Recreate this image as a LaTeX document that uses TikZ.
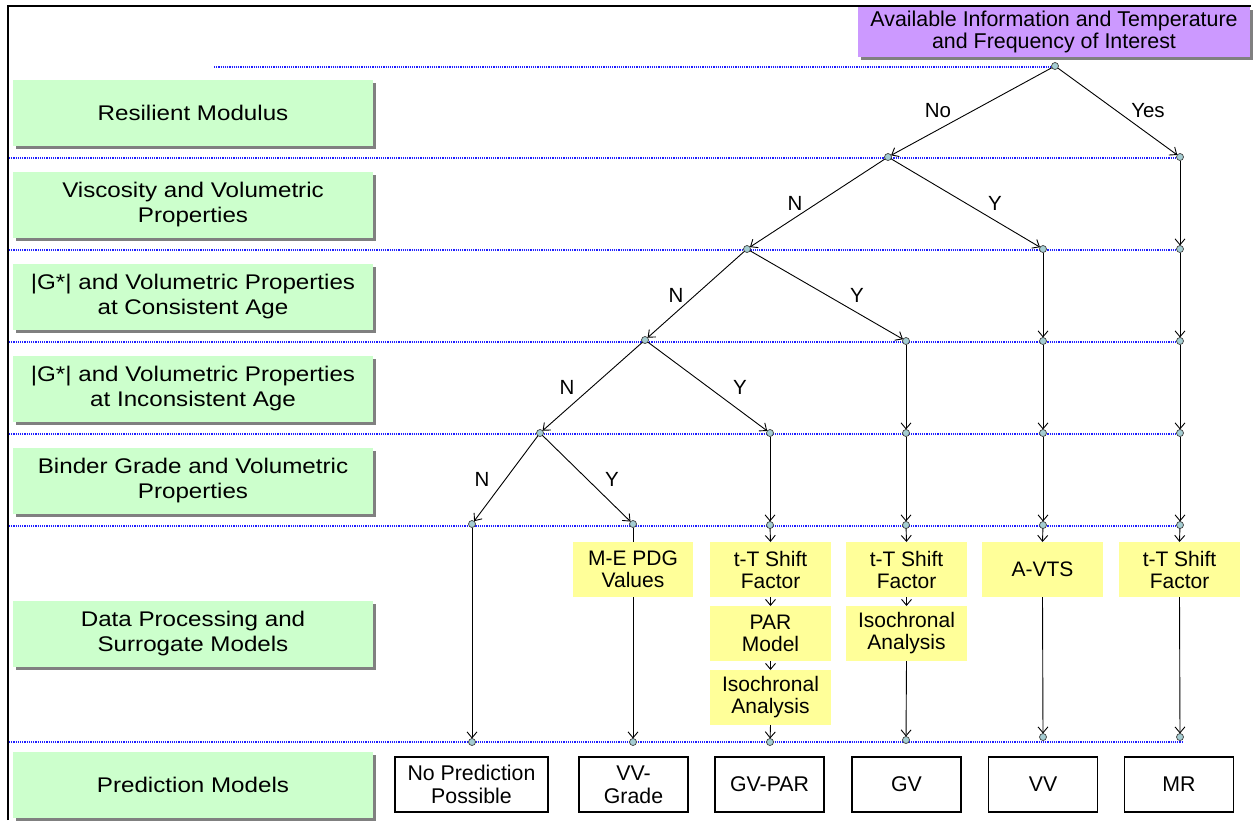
\documentclass[tikz,border=0pt]{standalone}
\usepackage{fontspec}
\setmainfont{Liberation Sans}
\newfontfamily\lblfont[FakeStretch=1.14]{Liberation Sans}
\usetikzlibrary{arrows.meta,shadows}
\definecolor{lgreen}{RGB}{204,255,204}
\definecolor{lpurple}{RGB}{204,153,255}
\definecolor{lyellow}{RGB}{255,255,153}
\definecolor{jnfill}{RGB}{165,205,210}
\definecolor{shadowgray}{RGB}{128,128,128}
\definecolor{rowblue}{RGB}{30,30,255}
\begin{document}
\begin{tikzpicture}[x=1pt,y=-1pt,
  every node/.style={inner sep=0pt, outer sep=0pt},
  shd/.style={drop shadow={shadow xshift=3pt, shadow yshift=-3pt, fill=shadowgray, opacity=1}},
  lvl/.style={shd, fill=lgreen, minimum width=360pt, minimum height=66pt, align=center,
    font=\lblfont\fontsize{21.2}{25}\selectfont},
  topbox/.style={shd, fill=lpurple, minimum width=392pt, minimum height=50pt, align=center,
    font=\fontsize{21.4}{22}\selectfont},
  ybox/.style={fill=lyellow, minimum width=121pt, minimum height=55pt, align=center,
    font=\fontsize{21}{22}\selectfont},
  pbox/.style={draw=black, line width=1.2pt, minimum width=109pt, minimum height=55pt, align=center,
    font=\fontsize{21.3}{23}\selectfont},
  jn/.style={circle, draw=black!75, fill=jnfill, minimum size=7pt, line width=0.7pt},
  arr/.style={-{Straight Barb[length=6pt,width=10pt]}, line width=0.9pt},
  ln/.style={line width=0.9pt},
  rowline/.style={rowblue, densely dotted, line width=1.2pt},
  yn/.style={font=\fontsize{20.5}{22}\selectfont}
]
\useasboundingbox (0,0) rectangle (1253,820);
% frame
\draw[line width=2.5pt] (8,820) -- (8,6) -- (1251,6);
% row guide lines
\draw[rowline] (214,67) -- (1055,67);
\foreach \yy in {158,250,342,434,526,742}
  \draw[rowline] (9,\yy) -- (1183,\yy);
% level labels
\node[lvl] (L1) at (193,113) {Resilient Modulus};
\node[lvl] (L2) at (193,205) {Viscosity and Volumetric\\Properties};
\node[lvl] (L3) at (193,297) {|G*| and Volumetric Properties\\at Consistent Age};
\node[lvl] (L4) at (193,389) {|G*| and Volumetric Properties\\at Inconsistent Age};
\node[lvl] (L5) at (193,481) {Binder Grade and Volumetric\\Properties};
\node[lvl] (L6) at (193,633.5) {Data Processing and\\Surrogate Models};
\node[lvl] (L7) at (193,785) {Prediction Models};
% top box
\node[topbox] (top) at (1054,32) {Available Information and Temperature\\and Frequency of Interest};
% junctions
\node[jn] (a0) at (1055,66) {};
\node[jn] (b1) at (888,157) {};
\node[jn] (b2) at (1180,157) {};
\node[jn] (c1) at (747,249) {};
\node[jn] (c2) at (1043,249) {};
\node[jn] (c3) at (1180,249) {};
\node[jn] (d1) at (645,340) {};
\node[jn] (d2) at (906,341) {};
\node[jn] (d3) at (1043,341) {};
\node[jn] (d4) at (1180,341) {};
\node[jn] (e1) at (540,433) {};
\node[jn] (e2) at (770,433) {};
\node[jn] (e3) at (906,433) {};
\node[jn] (e4) at (1043,433) {};
\node[jn] (e5) at (1180,433) {};
\node[jn] (f1) at (472,524) {};
\node[jn] (f2) at (633,524) {};
\node[jn] (f3) at (770,525) {};
\node[jn] (f4) at (906,525) {};
\node[jn] (f5) at (1043,525) {};
\node[jn] (f6) at (1180,525) {};
\node[jn] (g1) at (472,742) {};
\node[jn] (g2) at (633,742) {};
\node[jn] (g3) at (770,742) {};
\node[jn] (g4) at (906,740) {};
\node[jn] (g5) at (1043,737) {};
\node[jn] (g6) at (1180,737) {};
% tree arrows
\draw[arr] (a0) -- (b1);
\draw[arr] (a0) -- (b2);
\draw[arr] (b1) -- (c1);
\draw[arr] (b1) -- (c2);
\draw[arr] (c1) -- (d1);
\draw[arr] (c1) -- (d2);
\draw[arr] (d1) -- (e1);
\draw[arr] (d1) -- (e2);
\draw[arr] (e1) -- (f1);
\draw[arr] (e1) -- (f2);
\draw[arr] (b2) -- (c3);
\draw[arr] (c3) -- (d4);
\draw[arr] (d4) -- (e5);
\draw[arr] (e5) -- (f6);
\draw[arr] (c2) -- (d3);
\draw[arr] (d3) -- (e4);
\draw[arr] (e4) -- (f5);
\draw[arr] (d2) -- (e3);
\draw[arr] (e3) -- (f4);
\draw[arr] (e2) -- (f3);
% branch labels
\node[yn] at (938,111) {No};
\node[yn] at (1148,111) {Yes};
\node[yn] at (795,203) {N};
\node[yn] at (995,203) {Y};
\node[yn] at (676,295) {N};
\node[yn] at (857,295) {Y};
\node[yn] at (567,387) {N};
\node[yn] at (740,387) {Y};
\node[yn] at (482,479) {N};
\node[yn] at (612,479) {Y};
% data processing boxes
\node[ybox, minimum width=120pt] (me) at (633,569.5) {M-E PDG\\Values};
\node[ybox] (tt1) at (770.5,569.5) {t-T Shift\\Factor};
\node[ybox] (par) at (770.5,633.5) {PAR\\Model};
\node[ybox] (iso1) at (770.5,697.5) {Isochronal\\Analysis};
\node[ybox] (tt2) at (906.5,569.5) {t-T Shift\\Factor};
\node[ybox] (iso2) at (906.5,633.5) {Isochronal\\Analysis};
\node[ybox] (avts) at (1042.5,569.5) {A-VTS};
\node[ybox] (tt3) at (1179.5,569.5) {t-T Shift\\Factor};
% data processing connectors
\draw[arr] (f1) -- (g1);
\draw[ln] (f2) -- (me.north);
\draw[arr] (me.south) -- (g2);
\draw[arr] (f3) -- (tt1.north);
\draw[arr] (tt1.south) -- (par.north);
\draw[arr] (par.south) -- (iso1.north);
\draw[arr] (iso1.south) -- (g3);
\draw[arr] (f4) -- (tt2.north);
\draw[arr] (tt2.south) -- (iso2.north);
\draw[arr] (iso2.south) -- (g4);
\draw[arr] (f5) -- (avts.north);
\draw[arr] (avts.south) -- (g5);
\draw[arr] (f6) -- (tt3.north);
\draw[arr] (tt3.south) -- (g6);
% prediction models
\node[pbox, minimum width=153pt] (p1) at (471.5,784.5) {No Prediction\\Possible};
\node[pbox] (p2) at (633.5,784.5) {VV-\\Grade};
\node[pbox] (p3) at (769.5,784.5) {GV-PAR};
\node[pbox] (p4) at (906.5,784.5) {GV};
\node[pbox] (p5) at (1043,784.5) {VV};
\node[pbox] (p6) at (1179,784.5) {MR};
\end{tikzpicture}
\end{document}
